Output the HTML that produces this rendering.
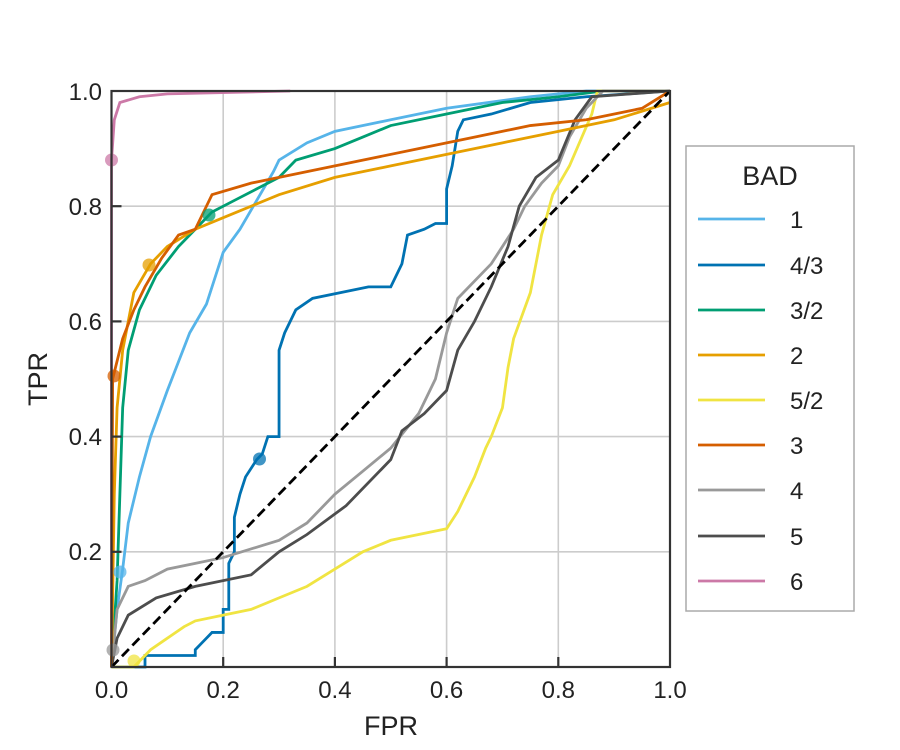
<!DOCTYPE html>
<html><head><meta charset="utf-8"><style>
html,body{margin:0;padding:0;background:#fff;}
svg{display:block;font-family:"Liberation Sans",sans-serif;}
.c{fill:none;stroke-width:2.8;vector-effect:non-scaling-stroke;stroke-linejoin:miter;}
</style></head><body>
<svg width="900" height="750" viewBox="0 0 900 750">
<rect width="900" height="750" fill="#fff"/>
<g stroke="#cccccc" stroke-width="1.6">
<line x1="223.2" y1="91" x2="223.2" y2="667"/><line x1="334.9" y1="91" x2="334.9" y2="667"/><line x1="446.6" y1="91" x2="446.6" y2="667"/><line x1="558.3" y1="91" x2="558.3" y2="667"/>
<line x1="111.5" y1="551.8" x2="670" y2="551.8"/><line x1="111.5" y1="436.6" x2="670" y2="436.6"/><line x1="111.5" y1="321.4" x2="670" y2="321.4"/><line x1="111.5" y1="206.2" x2="670" y2="206.2"/>
</g>
<g transform="translate(111.5,667) scale(558.5,-576)">
<polyline class="c" stroke="#CC79A7" points="0,0 0,0.88 0.005,0.95 0.015,0.98 0.05,0.99 0.1,0.995 0.32,1"/>
<polyline class="c" stroke="#56B4E9" points="0,0 0.01,0.1 0.02,0.17 0.03,0.25 0.05,0.33 0.07,0.4 0.1,0.48 0.14,0.58 0.17,0.63 0.2,0.72 0.23,0.76 0.26,0.81 0.29,0.86 0.3,0.88 0.35,0.91 0.4,0.93 0.5,0.95 0.6,0.97 0.75,0.99 0.85,1 1,1"/>
<polyline class="c" stroke="#009E73" points="0,0 0.01,0.15 0.015,0.3 0.02,0.45 0.03,0.55 0.05,0.62 0.08,0.68 0.12,0.73 0.16,0.77 0.18,0.79 0.22,0.81 0.26,0.83 0.3,0.85 0.33,0.88 0.4,0.9 0.45,0.92 0.5,0.94 0.6,0.96 0.7,0.98 0.8,0.99 0.88,1 1,1"/>
<polyline class="c" stroke="#0072B2" points="0,0 0.06,0 0.06,0.02 0.15,0.02 0.15,0.03 0.16,0.04 0.17,0.05 0.18,0.06 0.2,0.06 0.2,0.1 0.21,0.1 0.21,0.18 0.22,0.2 0.22,0.26 0.23,0.3 0.24,0.33 0.26,0.36 0.27,0.37 0.28,0.4 0.3,0.4 0.3,0.55 0.31,0.58 0.33,0.62 0.36,0.64 0.41,0.65 0.46,0.66 0.5,0.66 0.52,0.7 0.53,0.75 0.56,0.76 0.58,0.77 0.6,0.77 0.6,0.83 0.61,0.87 0.62,0.93 0.63,0.95 0.68,0.96 0.75,0.98 0.85,0.99 1,1"/>
<polyline class="c" stroke="#F0E442" points="0,0 0.04,0 0.07,0.03 0.1,0.05 0.13,0.07 0.15,0.08 0.2,0.09 0.25,0.1 0.3,0.12 0.35,0.14 0.4,0.17 0.45,0.2 0.5,0.22 0.6,0.24 0.62,0.27 0.65,0.33 0.67,0.38 0.68,0.4 0.7,0.45 0.71,0.52 0.72,0.57 0.75,0.65 0.77,0.75 0.79,0.82 0.82,0.87 0.86,0.96 0.87,1 1,1"/>
<polyline class="c" stroke="#999999" points="0,0 0.01,0.1 0.03,0.14 0.06,0.15 0.1,0.17 0.15,0.18 0.2,0.19 0.3,0.22 0.35,0.25 0.4,0.3 0.45,0.34 0.5,0.38 0.55,0.44 0.58,0.5 0.6,0.58 0.62,0.64 0.68,0.7 0.72,0.76 0.74,0.8 0.77,0.84 0.8,0.87 0.82,0.92 0.85,0.97 0.88,1 1,1"/>
<polyline class="c" stroke="#4d4d4d" points="0,0 0.01,0.05 0.03,0.09 0.08,0.12 0.15,0.14 0.25,0.16 0.3,0.2 0.35,0.23 0.42,0.28 0.5,0.36 0.52,0.41 0.56,0.44 0.6,0.48 0.62,0.55 0.65,0.6 0.68,0.66 0.71,0.73 0.73,0.8 0.76,0.85 0.8,0.88 0.83,0.95 0.86,0.99 1,1"/>
<polyline class="c" stroke="#E69F00" points="0,0 0.005,0.3 0.01,0.45 0.02,0.55 0.04,0.65 0.07,0.7 0.1,0.73 0.15,0.76 0.2,0.78 0.3,0.82 0.4,0.85 0.5,0.87 0.6,0.89 0.7,0.91 0.8,0.93 0.9,0.95 1,0.98"/>
<polyline class="c" stroke="#D55E00" points="0,0 0.002,0.5 0.02,0.57 0.04,0.62 0.06,0.66 0.09,0.71 0.12,0.75 0.15,0.76 0.17,0.8 0.18,0.82 0.25,0.84 0.35,0.86 0.45,0.88 0.55,0.9 0.65,0.92 0.75,0.94 0.85,0.95 0.95,0.97 1,1"/>
<line x1="0" y1="0" x2="1" y2="1" stroke="#000" stroke-width="2.8" stroke-dasharray="10,5" vector-effect="non-scaling-stroke"/>
</g>
<g opacity="0.75">
<circle cx="111.5" cy="160" r="6.5" fill="#CC79A7"/>
<circle cx="120" cy="572" r="6.5" fill="#56B4E9"/>
<circle cx="209" cy="215" r="6.5" fill="#009E73"/>
<circle cx="149" cy="265" r="6.5" fill="#E69F00"/>
<circle cx="114" cy="376" r="6.5" fill="#D55E00"/>
<circle cx="259.5" cy="459" r="6.5" fill="#0072B2"/>
<circle cx="134" cy="661" r="6.5" fill="#F0E442"/>
<circle cx="113" cy="650" r="6.5" fill="#999999"/>
</g>
<rect x="111.5" y="91" width="558.5" height="576" fill="none" stroke="#333" stroke-width="2.2"/>
<g stroke="#333" stroke-width="2.2">
<line x1="223.2" y1="667" x2="223.2" y2="657"/><line x1="334.9" y1="667" x2="334.9" y2="657"/><line x1="446.6" y1="667" x2="446.6" y2="657"/><line x1="558.3" y1="667" x2="558.3" y2="657"/>
<line x1="111.5" y1="551.8" x2="121.5" y2="551.8"/><line x1="111.5" y1="436.6" x2="121.5" y2="436.6"/><line x1="111.5" y1="321.4" x2="121.5" y2="321.4"/><line x1="111.5" y1="206.2" x2="121.5" y2="206.2"/>
</g>
<g font-size="24" fill="#222" text-anchor="end">
<text x="102" y="100">1.0</text><text x="102" y="215">0.8</text><text x="102" y="330">0.6</text><text x="102" y="445">0.4</text><text x="102" y="560">0.2</text>
</g>
<g font-size="24" fill="#222" text-anchor="middle">
<text x="111.5" y="698">0.0</text><text x="223.2" y="698">0.2</text><text x="334.9" y="698">0.4</text><text x="446.6" y="698">0.6</text><text x="558.3" y="698">0.8</text><text x="670" y="698">1.0</text>
<text x="391" y="735" font-size="27">FPR</text>
<text transform="translate(47,379) rotate(-90)" font-size="27">TPR</text>
</g>
<rect x="686" y="146" width="168" height="465" fill="#fff" stroke="#aaa" stroke-width="1.5"/>
<text x="770" y="185" font-size="27" fill="#222" text-anchor="middle">BAD</text>
<g stroke-width="2.8">
<line x1="698" y1="219" x2="765" y2="219" stroke="#56B4E9"/>
<line x1="698" y1="265" x2="765" y2="265" stroke="#0072B2"/>
<line x1="698" y1="310" x2="765" y2="310" stroke="#009E73"/>
<line x1="698" y1="355" x2="765" y2="355" stroke="#E69F00"/>
<line x1="698" y1="400" x2="765" y2="400" stroke="#F0E442"/>
<line x1="698" y1="445" x2="765" y2="445" stroke="#D55E00"/>
<line x1="698" y1="490" x2="765" y2="490" stroke="#999999"/>
<line x1="698" y1="536" x2="765" y2="536" stroke="#4d4d4d"/>
<line x1="698" y1="581" x2="765" y2="581" stroke="#CC79A7"/>
</g>
<g font-size="24" fill="#222">
<text x="790" y="228">1</text><text x="790" y="274">4/3</text><text x="790" y="319">3/2</text><text x="790" y="364">2</text><text x="790" y="409">5/2</text><text x="790" y="454">3</text><text x="790" y="499">4</text><text x="790" y="545">5</text><text x="790" y="590">6</text>
</g>
</svg>
</body></html>
